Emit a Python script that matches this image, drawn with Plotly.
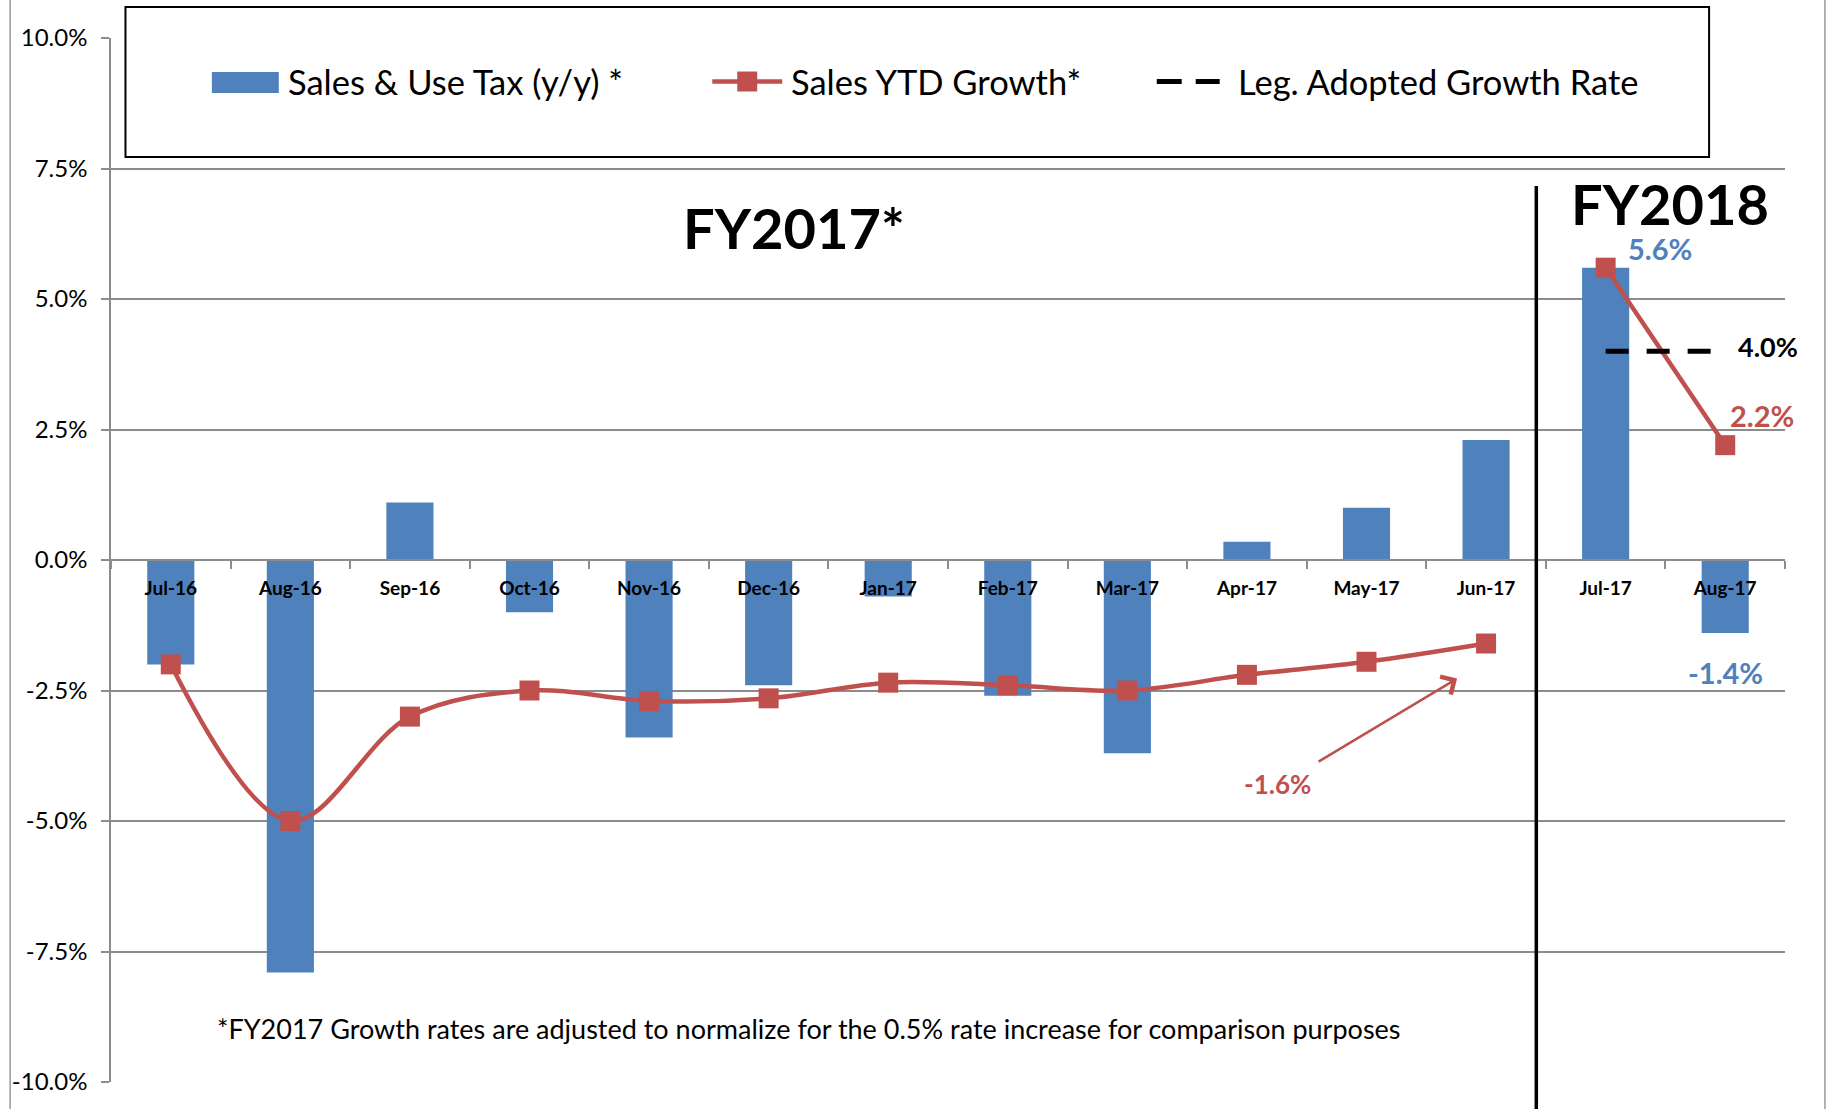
import plotly.graph_objects as go

# ---------------- data ----------------
categories = ["Jul-16", "Aug-16", "Sep-16", "Oct-16", "Nov-16", "Dec-16", "Jan-17",
              "Feb-17", "Mar-17", "Apr-17", "May-17", "Jun-17", "Jul-17", "Aug-17"]
sales_use_tax = [-2.0, -7.9, 1.1, -1.0, -3.4, -2.4, -0.7, -2.6, -3.7, 0.35, 1.0, 2.3, 5.6, -1.4]

fy2017_months = categories[:12]
ytd_growth_fy2017 = [-2.0, -5.0, -3.0, -2.5, -2.7, -2.65, -2.35, -2.4, -2.5, -2.2, -1.95, -1.6]
fy2018_months = categories[12:]
ytd_growth_fy2018 = [5.6, 2.2]

adopted_months = ["Jul-17", "Aug-17"]
adopted_rate = [4.0, 4.0]

y_ticks = [-10.0, -7.5, -5.0, -2.5, 0.0, 2.5, 5.0, 7.5, 10.0]
y_tick_labels = [f"{v:.1f}%" for v in y_ticks]

legend_labels = ["Sales & Use Tax (y/y) *", "Sales YTD Growth*", "Leg. Adopted Growth Rate"]
footnote = "*FY2017 Growth rates are adjusted to normalize for the 0.5% rate increase for comparison purposes"

# ---------------- style ----------------
W, H = 1827, 1109
L, R, T, B = 109, 42, 38, 27
PW, PH = W - L - R, H - T - B
BLUE = "#4F81BD"
RED = "#C0504D"
GRID = "#8C8C8C"
FONT = "Lato"


def fx(x):  # page pixel -> paper x
    return (x - L) / PW


def fy(y):  # page pixel -> paper y
    return 1 - (y - T) / PH


fig = go.Figure()

fig.add_trace(go.Bar(
    x=categories, y=sales_use_tax, marker=dict(color=BLUE, line=dict(width=0)),
    name=legend_labels[0], showlegend=False))

fig.add_trace(go.Scatter(
    x=fy2017_months, y=ytd_growth_fy2017, mode="lines+markers",
    line=dict(color=RED, width=4.5, shape="spline", smoothing=1.0),
    marker=dict(symbol="square", size=20, color=RED),
    name=legend_labels[1], showlegend=False))

fig.add_trace(go.Scatter(
    x=fy2018_months, y=ytd_growth_fy2018, mode="lines+markers",
    line=dict(color=RED, width=4.5),
    marker=dict(symbol="square", size=20, color=RED),
    name=legend_labels[1], showlegend=False))

fig.add_trace(go.Scatter(
    x=adopted_months, y=adopted_rate, mode="lines",
    line=dict(color="black", width=5, dash="23px,18px"),
    name=legend_labels[2], showlegend=False))

shapes = []
# outer chart border lines (left / right)
for xp in (8, 1825):
    shapes.append(dict(type="line", xref="paper", yref="paper",
                       x0=fx(xp), x1=fx(xp), y0=fy(H + 5), y1=fy(-5),
                       line=dict(color="#9A9A9A", width=1.5)))
# FY divider
shapes.append(dict(type="line", xref="paper", yref="paper",
                   x0=fx(1536), x1=fx(1536), y0=fy(H + 5), y1=fy(186),
                   line=dict(color="black", width=3.5)))
# legend box
shapes.append(dict(type="rect", xref="paper", yref="paper", layer="above",
                   x0=fx(123.5), x1=fx(1709), y0=fy(157), y1=fy(7),
                   fillcolor="white", line=dict(color="black", width=2)))
# legend keys
shapes.append(dict(type="rect", xref="paper", yref="paper", layer="above",
                   x0=fx(210), x1=fx(277), y0=fy(93), y1=fy(72),
                   fillcolor=BLUE, line=dict(width=0)))
shapes.append(dict(type="line", xref="paper", yref="paper", layer="above",
                   x0=fx(711), x1=fx(781), y0=fy(81.5), y1=fy(81.5),
                   line=dict(color=RED, width=4.5)))
shapes.append(dict(type="rect", xref="paper", yref="paper", layer="above",
                   x0=fx(736), x1=fx(756), y0=fy(91.5), y1=fy(71.5),
                   fillcolor=RED, line=dict(width=0)))
for a, b in ((1156, 1181), (1195, 1219)):
    shapes.append(dict(type="line", xref="paper", yref="paper", layer="above",
                       x0=fx(a), x1=fx(b), y0=fy(81.5), y1=fy(81.5),
                       line=dict(color="black", width=5)))

annotations = []
leg_font = dict(family=FONT, size=34.5, color="black")
for text, xp in zip(legend_labels, (284, 788, 1235)):
    annotations.append(dict(xref="paper", yref="paper", x=fx(xp), y=fy(81.5),
                            text=text, showarrow=False, xanchor="left", yanchor="middle",
                            font=leg_font))

# period titles
annotations.append(dict(xref="paper", yref="paper", x=fx(793), y=fy(227), text="FY2017*",
                        showarrow=False, xanchor="center", yanchor="middle", height=52,
                        font=dict(family=FONT, size=56, color="black", weight="bold")))
annotations.append(dict(xref="paper", yref="paper", x=fx(1670), y=fy(203), text="FY2018",
                        showarrow=False, xanchor="center", yanchor="middle", height=48,
                        font=dict(family=FONT, size=56, color="black", weight="bold")))

# value labels
lab_font = dict(family=FONT, size=29, weight="bold")
annotations.append(dict(x="Jul-17", y=sales_use_tax[12], text=f"{sales_use_tax[12]:.1f}%",
                        showarrow=False, xshift=54, yshift=20, height=28,
                        xanchor="center", yanchor="middle",
                        font=dict(lab_font, color=BLUE)))
annotations.append(dict(x="Aug-17", y=sales_use_tax[13], text=f"{sales_use_tax[13]:.1f}%",
                        showarrow=False, xshift=0, yshift=-39,
                        xanchor="center", yanchor="middle",
                        font=dict(lab_font, color=BLUE)))
annotations.append(dict(x="Aug-17", y=ytd_growth_fy2018[1], text=f"{ytd_growth_fy2018[1]:.1f}%",
                        showarrow=False, xshift=37, yshift=30,
                        xanchor="center", yanchor="middle",
                        font=dict(lab_font, color=RED)))
annotations.append(dict(x="Aug-17", y=adopted_rate[1], text=f"{adopted_rate[1]:.1f}%",
                        showarrow=False, xshift=43, yshift=5,
                        xanchor="center", yanchor="middle",
                        font=dict(family=FONT, size=27, weight="bold", color="black")))
annotations.append(dict(x="Jun-17", y=ytd_growth_fy2017[11], text=f"{ytd_growth_fy2017[11]:.1f}%",
                        showarrow=False, xshift=-209, yshift=-140,
                        xanchor="center", yanchor="middle",
                        font=dict(family=FONT, size=26, weight="bold", color=RED)))
# arrow pointing to Jun-17 YTD value
annotations.append(dict(x="Jun-17", y=ytd_growth_fy2017[11], text="",
                        xshift=-29, yshift=-35, showarrow=True,
                        ax=-140, ay=84, axref="pixel", ayref="pixel",
                        arrowhead=4, arrowsize=1.6, arrowwidth=2.5, arrowcolor=RED, standoff=0))

# footnote
annotations.append(dict(xref="paper", yref="paper", x=fx(213), y=fy(1028), text=footnote,
                        showarrow=False, xanchor="left", yanchor="middle",
                        font=dict(family=FONT, size=27, color="black")))

fig.update_layout(
    width=W, height=H,
    margin=dict(l=L, r=R, t=T, b=B, pad=0),
    paper_bgcolor="white", plot_bgcolor="white",
    bargap=0.606,
    showlegend=False,
    font=dict(family=FONT, color="black"),
    shapes=shapes,
    annotations=annotations,
    xaxis=dict(
        type="category", categoryorder="array", categoryarray=categories,
        range=[-0.5, len(categories) - 0.5],
        anchor="free", position=0.5,
        showline=True, linecolor=GRID, linewidth=2,
        ticks="outside", tickson="boundaries", ticklen=8, tickwidth=1.5, tickcolor=GRID,
        ticklabelstandoff=11,
        tickfont=dict(family=FONT, size=19, color="black", weight="bold"),
        showgrid=False, zeroline=False,
    ),
    yaxis=dict(
        range=[-10, 10], tickvals=y_ticks, ticktext=y_tick_labels,
        showgrid=True, gridcolor=GRID, gridwidth=2,
        zeroline=False,
        showline=True, linecolor=GRID, linewidth=1.5,
        ticks="outside", ticklen=8, tickcolor=GRID, tickwidth=1.5,
        ticklabelstandoff=9,
        tickfont=dict(family=FONT, size=24, color="black"),
    ),
)

fig.write_html("out.html", config={"displayModeBar": False},
               post_script="document.body.style.margin='0';")
